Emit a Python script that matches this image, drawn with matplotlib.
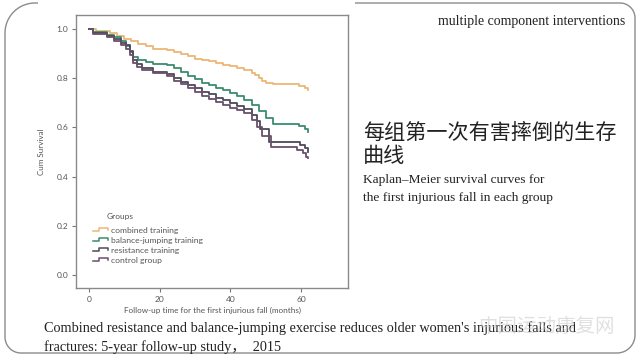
import numpy as np
import matplotlib
matplotlib.use("Agg")
import matplotlib.pyplot as plt
from matplotlib.lines import Line2D
from matplotlib.patches import Rectangle, PathPatch
from matplotlib.path import Path
from matplotlib.legend_handler import HandlerBase

# Kaplan-Meier curves (months, cumulative survival)
combined_t = [0, 2, 6, 8, 10, 12, 14, 16, 18, 22, 24, 26, 28, 30, 32, 34, 36, 38,
              40, 42, 44, 46, 47, 48, 49, 50, 52, 59.5, 61, 62]
combined_s = [1.0, 0.99, 0.982, 0.972, 0.96, 0.95, 0.94, 0.93, 0.92, 0.915, 0.908,
              0.9, 0.89, 0.88, 0.875, 0.868, 0.862, 0.855, 0.848, 0.84, 0.832,
              0.822, 0.812, 0.80, 0.79, 0.782, 0.775, 0.768, 0.76, 0.752]

balance_t = [0, 1, 5, 7, 9, 10.5, 11.5, 12.5, 14, 16, 18, 22, 24, 26, 28, 30, 32,
             34, 36, 38, 40, 42, 44, 46, 48, 50, 52, 59.5, 61, 62]
balance_s = [1.0, 0.986, 0.976, 0.966, 0.95, 0.93, 0.905, 0.888, 0.874, 0.864,
             0.858, 0.854, 0.84, 0.825, 0.81, 0.795, 0.78, 0.772, 0.762, 0.752,
             0.74, 0.728, 0.712, 0.69, 0.668, 0.64, 0.614, 0.606, 0.595, 0.58]

resist_t = [0, 1, 5, 7, 9, 10.5, 11.5, 12.5, 13.5, 15, 18, 22, 24, 26, 28, 30, 32,
            34, 36, 38, 40, 42, 44, 46, 47.5, 48.5, 51, 59.7, 61, 62]
resist_s = [1.0, 0.982, 0.972, 0.958, 0.945, 0.935, 0.91, 0.875, 0.858, 0.84,
            0.826, 0.818, 0.80, 0.785, 0.772, 0.76, 0.745, 0.735, 0.72, 0.71,
            0.698, 0.688, 0.676, 0.652, 0.625, 0.592, 0.542, 0.528, 0.515, 0.501]

control_t = [0, 1, 5, 7, 9, 10.5, 11.5, 12.5, 13.5, 15, 18, 22, 24, 26, 28, 30, 32,
             34, 36, 38, 40, 42, 44, 46, 47.5, 49, 51.5, 59, 60.5, 61.5, 62]
control_s = [1.0, 0.98, 0.966, 0.95, 0.935, 0.92, 0.895, 0.86, 0.847, 0.833, 0.82,
             0.81, 0.79, 0.775, 0.76, 0.745, 0.728, 0.715, 0.705, 0.69, 0.68, 0.67,
             0.657, 0.63, 0.6, 0.565, 0.522, 0.51, 0.495, 0.48, 0.474]

groups = ["combined training", "balance-jumping training", "resistance training", "control group"]
colors = ["#edb676", "#3a8c70", "#4c4a58", "#6a4f6c"]

xticks = [0, 20, 40, 60]
yticks = [0.0, 0.2, 0.4, 0.6, 0.8, 1.0]

plt.rcParams['font.family'] = ['Liberation Serif', 'Noto Sans CJK SC', 'DejaVu Sans']

fig = plt.figure(figsize=(6.4, 3.6), dpi=100)
fig.patch.set_facecolor("white")

# slide frame, drawn in pixel space
bg = fig.add_axes([0, 0, 1, 1])
bg.set_xlim(0, 640)
bg.set_ylim(360, 0)
bg.axis("off")


def arc(cx, cy, r, a0, a1, n=20):
    a = np.radians(np.linspace(a0, a1, n))
    return list(zip(cx + r * np.cos(a), cy + r * np.sin(a)))


L, R, T, B = 5, 635, 3, 353
pts = []
pts += arc(L + 30, T + 30, 30, 180, 270)
pts += arc(R - 15, T + 15, 15, 270, 360)
pts += arc(R - 18, B - 18, 18, 0, 90)
pts += arc(L + 16, B - 16, 16, 90, 180)
pts.append(pts[0])
bg.add_patch(PathPatch(Path(pts), fill=False, edgecolor="#8c8c8c", lw=1.0))
bg.add_patch(Rectangle((38, 0), 317, 12, facecolor="white", edgecolor="none"))

# the chart
ax = fig.add_axes([76 / 640, 1 - 288 / 360, 272 / 640, 273 / 360])
ax.set_facecolor("white")
series = [(combined_t, combined_s), (balance_t, balance_s),
          (resist_t, resist_s), (control_t, control_s)]
handles = []
for (t, s), c, g in zip(series, colors, groups):
    ax.step(t, s, where="post", color=c, lw=1.3)
    handles.append(Line2D([], [], color=c, lw=1.2, label=g))

ax.set_xlim(-3.68, 73.3)
ax.set_ylim(-0.053, 1.057)
ax.set_xticks(xticks)
ax.set_yticks(yticks)
ax.set_xticklabels([str(v) for v in xticks])
ax.set_yticklabels([f"{v:.1f}" for v in yticks])
for sp in ax.spines.values():
    sp.set_color("#8a8a8a")
    sp.set_linewidth(1.0)
ax.tick_params(direction="out", length=3, width=0.8, color="#777777",
               labelsize=6, labelcolor="#555555", pad=2.5)
for lab in ax.get_xticklabels() + ax.get_yticklabels():
    lab.set_family("Lato")
ax.set_ylabel("Cum Survival", family="Lato", fontsize=5.8, color="#555555", labelpad=8)
ax.set_xlabel("Follow-up time for the first injurious fall (months)", family="Lato",
              fontsize=5.9, color="#555555", labelpad=3)


class StepHandler(HandlerBase):
    def create_artists(self, legend, orig_handle, xdescent, ydescent, width, height,
                       fontsize, trans):
        xs = np.array([0, 0.35, 0.35, 0.9, 0.9]) * width - xdescent
        ys = np.array([0.3, 0.3, 0.85, 0.85, 0.5]) * height - ydescent
        ln = Line2D(xs, ys, color=orig_handle.get_color(), lw=1.1)
        ln.set_transform(trans)
        return [ln]


ax.text((107 - 76) / 272, (288 - 216) / 273, "Groups", transform=ax.transAxes,
        family="Lato", fontsize=6, color="#555555", va="center", ha="left")
leg = ax.legend(handles=handles, handler_map={Line2D: StepHandler()},
                loc="center left", bbox_to_anchor=((89 - 76) / 272, (288 - 245.6) / 273),
                frameon=False, borderpad=0, handlelength=1.9, handletextpad=0.25,
                labelspacing=0.36, prop={"family": "Lato", "size": 6.1})
for txt in leg.get_texts():
    txt.set_color("#555555")

# slide texts
fig.text(625 / 640, 1 - 22 / 360, "multiple component interventions", ha="right",
         va="center", fontsize=10, color="#222222")
fig.text(363 / 640, 1 - 133 / 360, "每组第一次有害摔倒的生存", ha="left", va="center",
         fontsize=15.2, color="#222222", family=["Noto Sans CJK SC"])
fig.text(363 / 640, 1 - 156 / 360, "曲线", ha="left", va="center",
         fontsize=15.2, color="#222222", family=["Noto Sans CJK SC"])
fig.text(363 / 640, 1 - 180 / 360, "Kaplan–Meier survival curves for", ha="left",
         va="center", fontsize=9.6, color="#222222")
fig.text(363 / 640, 1 - 198 / 360, "the first injurious fall in each group", ha="left",
         va="center", fontsize=9.6, color="#222222")
fig.text(44 / 640, 1 - 328 / 360,
         "Combined resistance and balance-jumping exercise reduces older women's injurious falls and",
         ha="left", va="center", fontsize=10.3, color="#222222")
fig.text(44 / 640, 1 - 347 / 360, "fractures: 5-year follow-up study，  2015",
         ha="left", va="center", fontsize=10.3, color="#222222")
fig.text(546 / 640, 1 - 327 / 360, "中国运动康复网", ha="center", va="center",
         fontsize=14, color="#c8c8c8", alpha=0.55, family=["Noto Sans CJK SC"])

fig.savefig("out.png", dpi=100)
